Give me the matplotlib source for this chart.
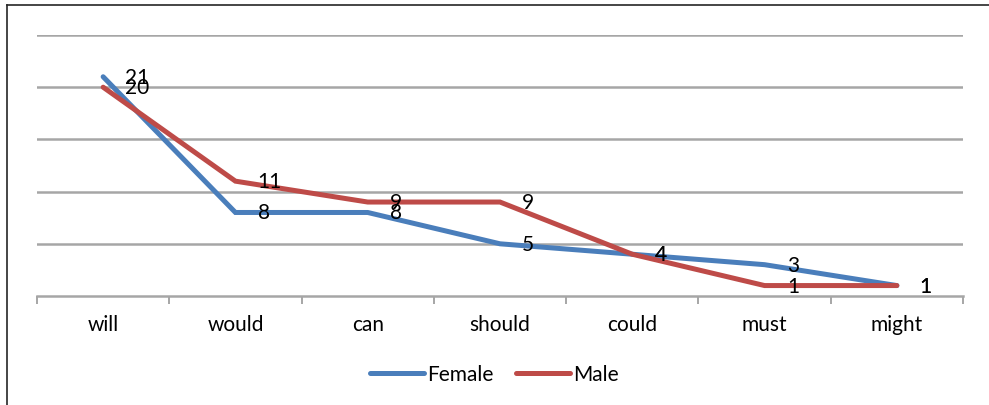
import matplotlib
matplotlib.use("Agg")
import matplotlib.pyplot as plt
from matplotlib.lines import Line2D

plt.rcParams['font.family'] = ['Lato', 'DejaVu Sans']

categories = ["will", "would", "can", "should", "could", "must", "might"]
female = [21, 8, 8, 5, 4, 3, 1]
male = [20, 11, 9, 9, 4, 1, 1]

BLUE = "#4A7EBB"
RED = "#BE4B48"
GRID = "#A6A6A6"
FS = 15

W, H = 989, 406
fig = plt.figure(figsize=(W / 100, H / 100), dpi=100)

# chart border (left and top edges visible)
fig.add_artist(Line2D([7 / W, 7 / W], [0, 1 - 6 / H], transform=fig.transFigure,
                      color="#262626", lw=1.2))
fig.add_artist(Line2D([7 / W, 1], [1 - 6 / H, 1 - 6 / H], transform=fig.transFigure,
                      color="#262626", lw=1.2))

ax = fig.add_axes([37 / W, 1 - 297 / H, (963 - 37) / W, (297 - 36) / H])
x = list(range(len(categories)))

ax.plot(x, female, color=BLUE, lw=3.6, solid_joinstyle="miter",
        solid_capstyle="round", zorder=3)
ax.plot(x, male, color=RED, lw=3.6, solid_joinstyle="miter",
        solid_capstyle="round", zorder=3)

for xi, v in zip(x, female):
    ax.annotate(str(v), (xi, v), xytext=(16, 0), textcoords="offset points",
                ha="left", va="center", fontsize=FS, color="black", zorder=4)
for xi, v in zip(x, male):
    ax.annotate(str(v), (xi, v), xytext=(16, 0), textcoords="offset points",
                ha="left", va="center", fontsize=FS, color="black", zorder=4)

ax.set_xlim(-0.5, len(categories) - 0.5)
ax.set_ylim(0, 25)
ax.set_yticks([5, 10, 15, 20, 25])
ax.yaxis.grid(True, color=GRID, lw=1.8)
ax.tick_params(axis="y", left=False, labelleft=False)

# category labels centred, tick marks at category boundaries
ax.set_xticks(x)
ax.set_xticklabels(categories, fontsize=FS)
ax.tick_params(axis="x", which="major", length=0, pad=13)
ax.set_xticks([i - 0.5 for i in range(len(categories) + 1)], minor=True)
ax.tick_params(axis="x", which="minor", length=6, width=1.4, color=GRID, direction="out")

for s in ["top", "right", "left"]:
    ax.spines[s].set_visible(False)
ax.spines["bottom"].set_color(GRID)
ax.spines["bottom"].set_linewidth(1.8)
ax.set_axisbelow(True)

handles = [Line2D([], [], color=BLUE, lw=3.6, solid_capstyle="round"),
           Line2D([], [], color=RED, lw=3.6, solid_capstyle="round")]
fig.legend(handles, ["Female", "Male"], loc="center",
           bbox_to_anchor=(0.5, 1 - 375 / H), ncol=2, frameon=False,
           fontsize=FS, handlelength=2.6, handletextpad=0.15, columnspacing=1.1)

fig.savefig("out.png", dpi=100)
